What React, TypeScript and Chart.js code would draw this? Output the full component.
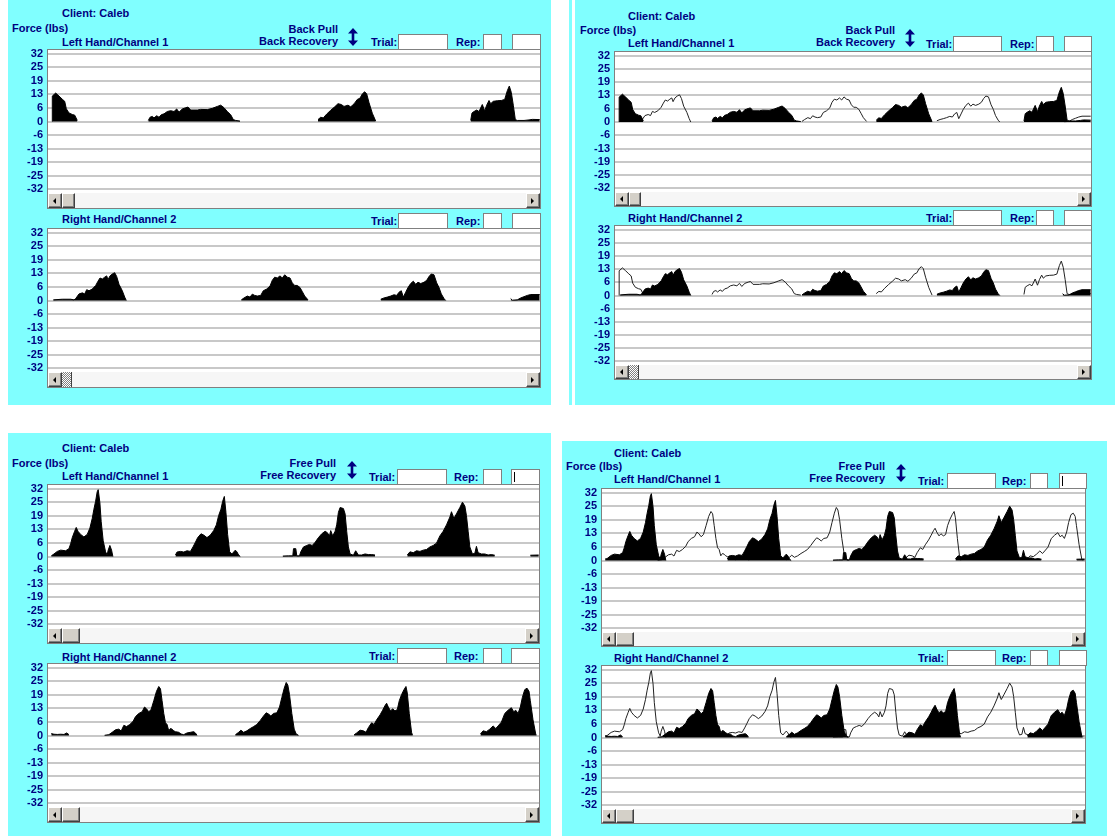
import React, { useEffect, useRef } from "react";
import { Chart, registerables } from "chart.js";

Chart.register(...registerables);

const NAVY = "#000080";
const CYAN = "#80ffff";
const FONT = "'Liberation Sans', Arial, sans-serif";

// ---- axis ticks ----
const yTickValues = [32, 25.6, 19.2, 12.8, 6.4, 0, -6.4, -12.8, -19.2, -25.6, -32];
const yTickLabels = ["32", "25", "19", "13", "6", "0", "-6", "-13", "-19", "-25", "-32"];

// ---- Back Pull / Back Recovery : left hand (channel 1) ----
const backLeftT = [
  2.2, 2.3, 5.7, 9, 12.3, 14.7, 16.3, 19, 22.3, 24.7, 27.3,
  60,
  98.3, 100, 102.3, 104, 106.7, 109, 111.3, 114, 117.3, 120.7, 124, 126.7, 129, 132.3, 135.7, 138, 140.7, 147.3, 150.7, 157.3, 162.3, 167.3, 170.7, 174, 177.3, 180.7, 183.3, 185.7, 190,
  230,
  268, 270.7, 273.3, 276.7, 280.7, 284.7, 288, 291.3, 294, 298, 300.7, 304, 307.3, 310, 312.3, 314.7, 316.7, 319, 322.3, 325.7,
  380,
  420.7, 422, 424, 426.7, 429, 432.3, 434.7, 436.7, 439, 440.7, 443.3, 447.3, 451.3, 454.7, 457.3, 459.3, 461.3, 463.3, 465.3, 467.3, 474, 479, 482.3, 489.7,
];
const backLeftF = [
  0, 12, 13.4, 12, 10.5, 9.5, 6, 4, 3.3, 3, 0.5,
  null,
  0.5, 2, 2.4, 1.7, 2.7, 2, 3.2, 3.6, 4.7, 5.1, 4.7, 5.9, 4.4, 5.9, 6.5, 6.8, 5.4, 5.4, 5.7, 5.6, 6.2, 7.1, 7.7, 6.5, 4.7, 3.2, 0.9, 0.5, 0.2,
  null,
  0.9, 2, 1.7, 3.5, 5.3, 6.9, 8.4, 8, 7.1, 7.7, 6.9, 8.3, 10.4, 11, 13, 14, 13, 8.9, 3.9, 0.2,
  null,
  0.5, 4, 4.7, 5.4, 4.7, 8, 5, 7.7, 9.9, 8.4, 9.5, 9.8, 9.9, 10.4, 14.5, 16.7, 13.7, 7.7, 0.9, 0.5, 0.5, 0.75, 1, 0.9,
];

// ---- Back Pull / Back Recovery : right hand (channel 2) ----
const backRightT = [
  3.3, 12.3, 20.7, 24, 25.7, 29, 32.3, 34.7, 36.7, 39, 42.3, 45.7, 48, 50, 52.3, 54.7, 56.7, 58, 60, 62.3, 64.7, 66.7, 69, 72.3, 74.7, 76.3,
  130,
  191.3, 194, 197.3, 200, 202.3, 204.7, 207.3, 210.7, 213.3, 216.7, 220, 222.3, 224.7, 227.3, 230, 232.3, 234.7, 237.3, 240, 242.3, 244.7, 247.3, 250, 252.3, 254.7, 258,
  300,
  330.7, 334, 337.3, 340.7, 344, 346.7, 349, 351.3, 353.3, 355.7, 358, 360.7, 363.3, 365.7, 368, 370.7, 374, 376.7, 379, 381.3, 384, 386.7, 389, 391.3, 394, 395.7,
  430,
  460.7, 462.3, 467.3, 470.7, 474, 477.3, 480.7, 489.7,
];
const backRightF = [
  0.3, 0.6, 0.6, 0.3, 0.9, 3.1, 3.6, 3.1, 5.1, 4.6, 5.4, 7.1, 9.1, 10.6, 10.1, 11, 11.6, 9.8, 11.6, 12.5, 13.1, 11.3, 7.6, 4.6, 1.6, 0,
  null,
  0.3, 1.2, 2.1, 1.6, 3, 2.4, 2.1, 2.4, 4.6, 5.4, 6.8, 9.5, 11, 10.6, 11.6, 10.6, 12.1, 11, 10.6, 8.3, 7.1, 7.1, 6.1, 4.2, 2.1, 0.3,
  null,
  0.6, 1.2, 1.6, 2.1, 2.7, 2.4, 3.9, 4.6, 1.6, 3.9, 6.1, 8, 9.1, 7.6, 8.6, 8, 8.6, 9.5, 11.3, 12.5, 12.1, 8.3, 6.1, 3.1, 0.9, 0,
  null,
  0.9, 0.15, 0.3, 1.2, 1.8, 2.4, 2.8, 2.8,
];

// ---- Free Pull / Free Recovery : left hand (channel 1) ----
const freeLeftT = [
  1.3, 4, 7.3, 10.7, 15.7, 19, 20.7, 22.3, 24.7, 26.3, 28, 30.7, 34, 37.3, 40, 42.3, 44, 45.7, 47.3, 48.3, 50, 51.3, 53.3, 55.7, 57.3, 58.3, 60, 61.7, 63,
  95,
  125.7, 127.3, 130.7, 134, 137.3, 140.7, 143.3, 145.7, 148, 151.3, 154, 157.3, 160.7, 164, 166.7, 169, 171.3, 173, 174.7, 176.3, 178, 180, 182.3, 185.7, 187.3, 189, 190.7,
  210,
  233.3, 239, 243.3, 244, 246.3, 247.3, 250, 251.3, 254, 257.3, 260, 262.7, 265.7, 269, 272.3, 275.7, 278, 280, 281.3, 283.3, 285.7, 287.3, 289, 290.7, 294, 295.7, 297.3, 299, 300.7, 304, 306.3, 309, 312.3, 315.7, 319, 322.3, 325.7,
  340,
  358, 360.7, 364, 367.3, 370.7, 374, 377.3, 380.7, 384, 387.3, 390.7, 394, 397.3, 400.7, 402.3, 404.7, 407.3, 410.7, 413.3, 415.7, 417.3, 419, 420.7, 423.3, 425.7, 427.3, 429, 432.3, 435.7, 439, 442.3, 445.7,
  465,
  481.3, 489.7,
];
const freeLeftF = [
  0.3, 1.2, 2.4, 3, 2.7, 3.7, 6, 8.9, 11.9, 13.7, 11.9, 10.4, 9.2, 10.4, 13.4, 17.9, 22.3, 26, 30.5, 31.5, 25.3, 16.4, 7.4, 2.2, 0.7, 3, 5.2, 3, 0,
  null,
  0.7, 2.1, 2.4, 2.1, 2.7, 2.4, 4.5, 6.7, 8.9, 10.7, 10.1, 8.9, 10.1, 12.2, 14.9, 19.3, 22.3, 26, 28.3, 20.8, 10.4, 2.2, 1.2, 3, 2.2, 0.7, 0,
  null,
  0.2, 0.3, 0.3, 3.7, 3.7, 0.3, 0.3, 2.2, 4.5, 5.2, 5.7, 5.2, 6.7, 8.9, 10.7, 11.9, 11.2, 9.7, 12.2, 9.7, 11.9, 14.9, 20.8, 23.1, 22.6, 20.1, 11.9, 4.5, 1.2, 0.6, 2.7, 0.7, 0.7, 1.2, 0.9, 0.9, 0.7,
  null,
  0.7, 2.2, 1.8, 2.7, 2.4, 3, 3.3, 4.5, 5.2, 6.3, 9.7, 11.9, 14.9, 18.6, 21.1, 17.9, 20.1, 23.1, 25.6, 23.8, 19.3, 11.9, 4.5, 1.2, 1.5, 4.8, 1.8, 1.2, 1.2, 0.7, 0.9, 0.6,
  null,
  0.6, 0.7,
];

// ---- Free Pull / Free Recovery : right hand (channel 2) ----
const freeRightT = [
  1.3, 4, 7.3, 10.7, 14, 16.7, 19,
  35,
  54.7, 59, 62.3, 65.7, 69, 71.3, 74, 76.7, 80, 83.3, 85.7, 89, 92.3, 94.7, 96.7, 99, 101.3, 104, 106.7, 109, 110.7, 112.3, 114, 115.7, 117.3, 119, 120.7, 122.3, 124, 125.7, 129, 131.3, 134, 137.3, 140.7, 144, 145.7, 147.3,
  165,
  185.7, 189, 191.3, 194, 197.3, 200.7, 204, 207.3, 210.7, 214, 216.7, 219, 221.3, 224, 227.3, 230, 232.3, 234.7, 236.7, 238.3, 240, 242.3, 244.7, 246.7, 249,
  280,
  304.7, 307.3, 310.7, 314, 316.7, 319, 322.3, 324.7, 327.3, 330.7, 333.3, 335.7, 337.3, 339, 341.3, 343.3, 345.7, 348, 350, 352.3, 354.7, 356.7, 358, 360, 362.3, 363.3,
  400,
  431.3, 434, 437.3, 440.7, 444, 446.7, 449, 452.3, 455.7, 459, 462.3, 464.7, 466.7, 469, 471.3, 473.3, 475.7, 478, 480, 481.3, 484, 486.7, 487.3,
];
const freeRightF = [
  0.9, 0.6, 0.5, 0.6, 0.5, 1.2, 0.4,
  null,
  0.1, 0.4, 1.5, 2.7, 3, 2.1, 4.8, 4.2, 5.2, 6.7, 8.9, 10.4, 11.2, 13.4, 12.6, 11.2, 12.2, 16.4, 20.8, 23.1, 22, 16.4, 10.4, 6, 5.2, 2.2, 3.3, 3, 2.2, 1.8, 1.5, 0.7, 0.4, 1.2, 1.5, 1.8, 1.2, 0.1,
  null,
  0.3, 1.5, 2.5, 1.5, 2.2, 3.3, 4.2, 5.2, 7.1, 9.2, 10.7, 10.1, 9.2, 10.4, 10.7, 13.4, 17.9, 22.3, 25, 23.8, 19.3, 10.4, 3, 0.7, 0.1,
  null,
  0.3, 1.2, 2.5, 2.2, 1.5, 3.7, 6, 5.2, 7.4, 9.7, 11.9, 14.1, 15.2, 13.4, 11.6, 12.6, 11.6, 12.2, 16.4, 19.3, 21.6, 23.1, 20.1, 10.4, 1.5, 0.1,
  null,
  0.7, 2.2, 1.8, 3, 4.5, 3.3, 4.5, 6.3, 10.4, 11.9, 13.1, 11.2, 11.9, 10.4, 13.4, 17.9, 21.6, 22.3, 20.8, 16.4, 7.4, 0.7, 0.1,
];

type Pt = { x: number; y: number | null };
const toPoints = (t: number[], f: (number | null)[]): Pt[] => t.map((x, i) => ({ x, y: f[i] }));

const backLeft = toPoints(backLeftT, backLeftF);
const backRight = toPoints(backRightT, backRightF);
const freeLeft = toPoints(freeLeftT, freeLeftF);
const freeRight = toPoints(freeRightT, freeRightF);

const LABEL_W = 44;
const PAD = 8;

type ChartSpec = {
  x: number; y: number; w: number; h: number; sb: number; thumb: number; dither: boolean;
  own: Pt[]; other?: Pt[];
};

function ForceChart({ spec }: { spec: ChartSpec }) {
  const ref = useRef<HTMLCanvasElement>(null);
  useEffect(() => {
    const datasets: any[] = [
      {
        data: spec.own, fill: "origin", backgroundColor: "#000000", borderColor: "#000000",
        borderWidth: 1, pointRadius: 0, tension: 0, spanGaps: false,
      },
    ];
    if (spec.other) {
      datasets.push({
        data: spec.other, fill: false, borderColor: "#222222", borderWidth: 1,
        pointRadius: 0, tension: 0, spanGaps: false,
      });
    }
    const chart = new Chart(ref.current as HTMLCanvasElement, {
      type: "line",
      data: { datasets },
      options: {
        animation: false,
        responsive: false,
        maintainAspectRatio: false,
        events: [],
        layout: { padding: { top: PAD, bottom: PAD, left: 0, right: 0 } },
        plugins: { legend: { display: false }, tooltip: { enabled: false }, title: { display: false } },
        scales: {
          x: { type: "linear", min: -2, max: 490, display: false },
          y: {
            min: -32,
            max: 32,
            afterFit: (s: any) => { s.width = LABEL_W; },
            afterBuildTicks: (s: any) => { s.ticks = yTickValues.map((v) => ({ value: v })); },
            ticks: {
              autoSkip: false,
              padding: 5,
              color: NAVY,
              font: { family: FONT, size: 11, weight: "bold" },
              callback: (v: any) => {
                const i = yTickValues.findIndex((t) => Math.abs(t - Number(v)) < 0.01);
                return i >= 0 ? yTickLabels[i] : "";
              },
            },
            grid: { color: "#c8c8c8", lineWidth: 2, drawTicks: false },
            border: { display: false },
          },
        },
      } as any,
    });
    return () => chart.destroy();
  }, []);
  return (
    <canvas
      ref={ref}
      width={spec.w + LABEL_W}
      height={Math.round(spec.h) + 2 * PAD}
      style={{ position: "absolute", left: spec.x - LABEL_W, top: spec.y - PAD }}
    />
  );
}

function Btn({ left, width, h, dir }: { left: number; width: number; h: number; dir?: "l" | "r" }) {
  return (
    <div
      style={{
        position: "absolute", left, top: 0, width, height: h, boxSizing: "border-box",
        background: "#d4d0c8", borderTop: "1px solid #ffffff", borderLeft: "1px solid #ffffff",
        borderRight: "1px solid #404040", borderBottom: "1px solid #404040",
        boxShadow: "inset -1px -1px 0 #808080",
      }}
    >
      {dir && (
        <div
          style={{
            position: "absolute", top: h / 2 - 4, left: width / 2 - 3, width: 0, height: 0,
            borderTop: "3px solid transparent", borderBottom: "3px solid transparent",
            ...(dir === "l" ? { borderRight: "3px solid #000" } : { borderLeft: "3px solid #000" }),
          }}
        />
      )}
    </div>
  );
}

function ChartBlock({ spec }: { spec: ChartSpec }) {
  const hh = Math.round(spec.h);
  const bw = 14;
  return (
    <>
      <div
        style={{
          position: "absolute", left: spec.x - 1, top: spec.y - 1, width: spec.w + 2,
          height: hh + spec.sb + 2, boxSizing: "border-box", border: "1px solid #808080", background: "#ffffff",
        }}
      />
      <ForceChart spec={spec} />
      <div style={{ position: "absolute", left: spec.x, top: spec.y + hh, width: spec.w, height: spec.sb, background: "#f6f6f6" }}>
        <Btn left={0} width={bw} h={spec.sb} dir="l" />
        {spec.dither ? (
          <div
            style={{
              position: "absolute", left: bw, top: 0, width: spec.thumb, height: spec.sb,
              background: "repeating-conic-gradient(#808080 0 25%, #ffffff 0 50%) 0 0 / 2px 2px",
              borderRight: "1px solid #404040", boxSizing: "border-box",
            }}
          />
        ) : (
          <Btn left={bw} width={spec.thumb} h={spec.sb} />
        )}
        <Btn left={spec.w - bw} width={bw} h={spec.sb} dir="r" />
      </div>
    </>
  );
}

function Txt({ left, cy, text, right }: { left?: number; cy: number; text: string; right?: number }) {
  const base: React.CSSProperties = {
    position: "absolute", top: cy - 7, height: 14, lineHeight: "14px", fontFamily: FONT,
    fontSize: 11, fontWeight: "bold", color: NAVY, whiteSpace: "nowrap",
  };
  if (right !== undefined) {
    return <div style={{ ...base, left: right - 200, width: 200, textAlign: "right" }}>{text}</div>;
  }
  return <div style={{ ...base, left }}>{text}</div>;
}

function Box({ left, top, w, h, cursor }: { left: number; top: number; w: number; h: number; cursor?: boolean }) {
  return (
    <div
      style={{
        position: "absolute", left, top, width: w, height: h, boxSizing: "border-box",
        background: "#ffffff", border: "1px solid #808080",
      }}
    >
      {cursor && <div style={{ position: "absolute", left: 2, top: 2, width: 1, height: h - 6, background: "#000" }} />}
    </div>
  );
}

function UpDown({ left, top }: { left: number; top: number }) {
  return (
    <svg style={{ position: "absolute", left, top }} width={10} height={18} viewBox="0 0 10 18">
      <path d="M5 0 L10 5.5 L6.3 5.5 L6.3 12.5 L10 12.5 L5 18 L0 12.5 L3.7 12.5 L3.7 5.5 L0 5.5 Z" fill={NAVY} />
    </svg>
  );
}

type PanelSpec = {
  bg: { x: number; y: number; w: number; h: number };
  client: [number, number]; force: [number, number]; ch1: [number, number]; ch2: [number, number];
  pullRight: number; pullCy: number; recCy: number; pull: string; rec: string;
  arrow: [number, number];
  trialLabel: number; trialBox: number; trialW: number; repLabel: number; repBox: number; repW: number;
  extraBox: number; extraW: number; row1Top: number; row2Top: number; cursor: boolean;
  c1: ChartSpec; c2: ChartSpec;
};

function Panel({ p }: { p: PanelSpec }) {
  const rows = [p.row1Top, p.row2Top];
  return (
    <>
      <div style={{ position: "absolute", left: p.bg.x, top: p.bg.y, width: p.bg.w, height: p.bg.h, background: CYAN }} />
      <Txt left={p.client[0]} cy={p.client[1]} text="Client: Caleb" />
      <Txt left={p.force[0]} cy={p.force[1]} text="Force (lbs)" />
      <Txt left={p.ch1[0]} cy={p.ch1[1]} text="Left Hand/Channel 1" />
      <Txt left={p.ch2[0]} cy={p.ch2[1]} text="Right Hand/Channel 2" />
      <Txt right={p.pullRight} cy={p.pullCy} text={p.pull} />
      <Txt right={p.pullRight} cy={p.recCy} text={p.rec} />
      <UpDown left={p.arrow[0]} top={p.arrow[1]} />
      {rows.map((top, i) => (
        <React.Fragment key={i}>
          <Txt left={p.trialLabel} cy={top + 8} text="Trial:" />
          <Box left={p.trialBox} top={top} w={p.trialW} h={16} />
          <Txt left={p.repLabel} cy={top + 8} text="Rep:" />
          <Box left={p.repBox} top={top} w={p.repW} h={16} />
          <Box left={p.extraBox} top={top} w={p.extraW} h={16} cursor={p.cursor && i === 0} />
        </React.Fragment>
      ))}
      <ChartBlock spec={p.c1} />
      <ChartBlock spec={p.c2} />
    </>
  );
}

const panels: PanelSpec[] = [
  {
    bg: { x: 8, y: 0, w: 543, h: 405 },
    client: [62, 13], force: [12, 28], ch1: [62, 42], ch2: [62, 219],
    pullRight: 338, pullCy: 29, recCy: 41, pull: "Back Pull", rec: "Back Recovery",
    arrow: [348, 28],
    trialLabel: 371, trialBox: 398, trialW: 50, repLabel: 456, repBox: 483, repW: 19, extraBox: 512, extraW: 29,
    row1Top: 34, row2Top: 213, cursor: false,
    c1: { x: 48, y: 50, w: 492, h: 143, sb: 15, thumb: 13, dither: false, own: backLeft },
    c2: { x: 48, y: 229, w: 492, h: 143, sb: 15, thumb: 10, dither: true, own: backRight },
  },
  {
    bg: { x: 575, y: 0, w: 540, h: 405 },
    client: [628, 16], force: [580, 30], ch1: [628, 43], ch2: [628, 218],
    pullRight: 895, pullCy: 30, recCy: 42, pull: "Back Pull", rec: "Back Recovery",
    arrow: [905, 29],
    trialLabel: 926, trialBox: 953, trialW: 49, repLabel: 1010, repBox: 1036, repW: 18, extraBox: 1064, extraW: 28,
    row1Top: 36, row2Top: 210, cursor: false,
    c1: { x: 615, y: 52, w: 476, h: 140, sb: 14, thumb: 12, dither: false, own: backLeft, other: backRight },
    c2: { x: 615, y: 226, w: 476, h: 139, sb: 14, thumb: 10, dither: true, own: backRight, other: backLeft },
  },
  {
    bg: { x: 8, y: 433, w: 543, h: 403 },
    client: [62, 448], force: [12, 463], ch1: [62, 476], ch2: [62, 657],
    pullRight: 336, pullCy: 463, recCy: 475, pull: "Free Pull", rec: "Free Recovery",
    arrow: [347, 461],
    trialLabel: 369, trialBox: 397, trialW: 50, repLabel: 454, repBox: 483, repW: 19, extraBox: 511, extraW: 29,
    row1Top: 469, row2Top: 648, cursor: true,
    c1: { x: 48, y: 485, w: 491, h: 143, sb: 15, thumb: 18, dither: false, own: freeLeft },
    c2: { x: 48, y: 664, w: 491, h: 143, sb: 15, thumb: 18, dither: false, own: freeRight },
  },
  {
    bg: { x: 562, y: 441, w: 545, h: 395 },
    client: [614, 453], force: [566, 466], ch1: [614, 479], ch2: [614, 658],
    pullRight: 885, pullCy: 466, recCy: 478, pull: "Free Pull", rec: "Free Recovery",
    arrow: [896, 464],
    trialLabel: 918, trialBox: 947, trialW: 49, repLabel: 1002, repBox: 1030, repW: 18, extraBox: 1059, extraW: 28,
    row1Top: 473, row2Top: 650, cursor: true,
    c1: { x: 602, y: 489, w: 483, h: 143, sb: 14, thumb: 18, dither: false, own: freeLeft, other: freeRight },
    c2: { x: 602, y: 666, w: 483, h: 143, sb: 14, thumb: 18, dither: false, own: freeRight, other: freeLeft },
  },
];

export default function App() {
  return (
    <div style={{ position: "absolute", left: 0, top: 0, width: 1115, height: 836, background: "#ffffff", overflow: "hidden" }}>
      <div style={{ position: "absolute", left: 569, top: 0, width: 3, height: 405, background: CYAN }} />
      {panels.map((p, i) => (
        <Panel key={i} p={p} />
      ))}
    </div>
  );
}
